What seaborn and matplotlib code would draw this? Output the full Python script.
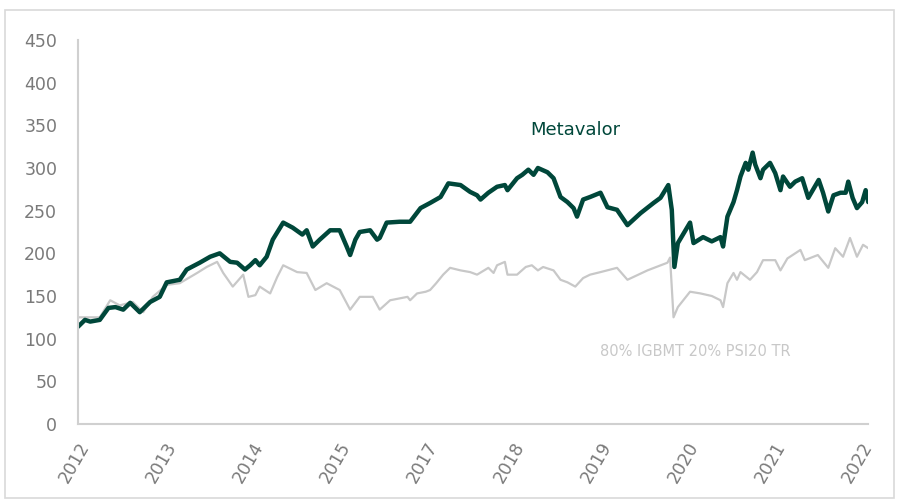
import numpy as np
import pandas as pd
import seaborn as sns
import matplotlib.pyplot as plt
from matplotlib.patches import Rectangle

# positions are in "tick steps" from the 2012 label (category axis, one step per label)
tick_labels = ['2012', '2013', '2014', '2015', '2017', '2018', '2019', '2020', '2021', '2022']

meta_pos = [0.0, 0.08, 0.14, 0.25, 0.35, 0.43, 0.52, 0.6, 0.71, 0.83, 0.94, 1.02, 1.17, 1.25, 1.4,
            1.52, 1.63, 1.75, 1.83, 1.92, 1.98, 2.04, 2.09, 2.17, 2.24, 2.36, 2.47, 2.58, 2.63, 2.7,
            2.78, 2.9, 3.01, 3.09, 3.13, 3.19, 3.24, 3.36, 3.44, 3.47, 3.55, 3.7,
            3.82, 3.94, 4.05, 4.17, 4.26, 4.40, 4.51, 4.59, 4.63, 4.72, 4.82, 4.91, 4.94,
            5.05, 5.11, 5.18, 5.24, 5.29, 5.40, 5.47, 5.55, 5.63, 5.70, 5.74, 5.81, 5.89,
            6.01, 6.09, 6.2, 6.32, 6.47, 6.62, 6.7, 6.79, 6.83, 6.86, 6.9, 7.04, 7.08, 7.19, 7.29,
            7.39, 7.42, 7.47, 7.54, 7.58, 7.62, 7.68, 7.71, 7.76, 7.79, 7.85, 7.88, 7.96, 8.02,
            8.08, 8.11, 8.19, 8.25, 8.33, 8.40, 8.52, 8.57, 8.63, 8.69, 8.77, 8.83, 8.86, 8.91,
            8.96, 9.02, 9.06, 9.09]
meta_val = [114, 122, 120, 122, 136, 137, 134, 142, 131, 143, 149, 166, 169, 181, 189,
            196, 200, 190, 189, 181, 186, 192, 186, 196, 216, 236, 230, 222, 227, 208,
            216, 227, 227, 208, 198, 216, 225, 227, 216, 218, 236, 237,
            237, 253, 259, 266, 282, 280, 272, 268, 263, 271, 278, 280, 274,
            288, 292, 298, 292, 300, 295, 288, 266, 260, 253, 243, 263, 266,
            271, 254, 251, 233, 247, 259, 265, 280, 251, 184, 212, 236, 212, 219, 214,
            219, 208, 243, 260, 274, 290, 306, 298, 318, 304, 288, 298, 306, 294,
            274, 290, 278, 284, 288, 265, 286, 271, 249, 268, 271, 271, 284, 265,
            253, 260, 274, 260]

bench_pos = [0.0, 0.14, 0.25, 0.37, 0.48, 0.63, 0.75, 0.86, 1.02, 1.17, 1.37, 1.48, 1.6, 1.67,
             1.78, 1.9, 1.96, 2.04, 2.09, 2.21, 2.29, 2.36, 2.52, 2.63, 2.73, 2.86, 3.01, 3.13,
             3.24, 3.39, 3.47, 3.59, 3.79,
             3.82, 3.90, 4.00, 4.05, 4.12, 4.20, 4.28, 4.40, 4.51, 4.59, 4.72, 4.78, 4.82, 4.91,
             4.94, 5.05, 5.15, 5.22, 5.29, 5.35, 5.47, 5.55, 5.63, 5.72, 5.81, 5.89,
             6.01, 6.2, 6.32, 6.55, 6.78, 6.81, 6.85, 6.9, 7.04, 7.16, 7.29,
             7.39, 7.42, 7.47, 7.54, 7.58, 7.62, 7.73, 7.81, 7.88, 8.02, 8.08, 8.16, 8.31, 8.36,
             8.51, 8.63, 8.71, 8.80, 8.88, 8.96, 9.03, 9.09]
bench_val = [125, 125, 125, 145, 139, 143, 131, 149, 163, 165, 177, 184, 190, 177,
             161, 175, 149, 151, 161, 153, 172, 186, 178, 177, 157, 165, 157, 134,
             149, 149, 134, 145, 149,
             145, 153, 155, 157, 165, 175, 183, 180, 178, 175, 183, 177, 186, 190,
             175, 175, 184, 186, 180, 184, 180, 169, 166, 161, 171, 175,
             178, 183, 169, 180, 189, 195, 125, 137, 155, 153, 150,
             145, 137, 165, 177, 169, 178, 169, 178, 192, 192, 180, 194, 204, 192,
             198, 183, 206, 196, 218, 196, 210, 206]

meta = pd.DataFrame({'pos': meta_pos, 'value': meta_val})
bench = pd.DataFrame({'pos': bench_pos, 'value': bench_val})

green = '#00473A'
light = '#C8C8C8'
axis_col = '#D0D0D0'
text_col = '#7A7A7A'

sns.set_style('white')
plt.rcParams['font.family'] = ['DejaVu Sans']

fig = plt.figure(figsize=(8.99, 5.01), dpi=100)
fig.patches.append(Rectangle((0.006, 0.006), 0.988, 0.974, transform=fig.transFigure,
                             fill=False, edgecolor='#D9D9D9', linewidth=1.2))
ax = fig.add_axes([0.0868, 0.1537, 0.879, 0.7665])

sns.lineplot(data=bench, x='pos', y='value', ax=ax, color=light, linewidth=1.6, sort=False)
sns.lineplot(data=meta, x='pos', y='value', ax=ax, color=green, linewidth=3.2, sort=False)

ax.set_xlim(0, 9.09)
ax.set_ylim(0, 450)
ax.set_yticks(range(0, 451, 50))
ax.set_xticks(range(len(tick_labels)))
ax.set_xticklabels(tick_labels, rotation=60, ha='right', rotation_mode='anchor')
ax.set_xlabel('')
ax.set_ylabel('')

for side in ['top', 'right']:
    ax.spines[side].set_visible(False)
for side in ['left', 'bottom']:
    ax.spines[side].set_color(axis_col)
    ax.spines[side].set_linewidth(1.5)
ax.tick_params(axis='both', colors=axis_col, labelcolor=text_col, labelsize=12.5,
               length=5, width=1.2, direction='out')
ax.tick_params(axis='y', pad=10)
ax.tick_params(axis='x', pad=6)

ax.text(5.2, 345, 'Metavalor', color=green, fontsize=13, va='center')
ax.text(6.0, 85, '80% IGBMT 20% PSI20 TR', color=light, fontsize=10.5, va='center')

plt.savefig('out.png', dpi=100)
